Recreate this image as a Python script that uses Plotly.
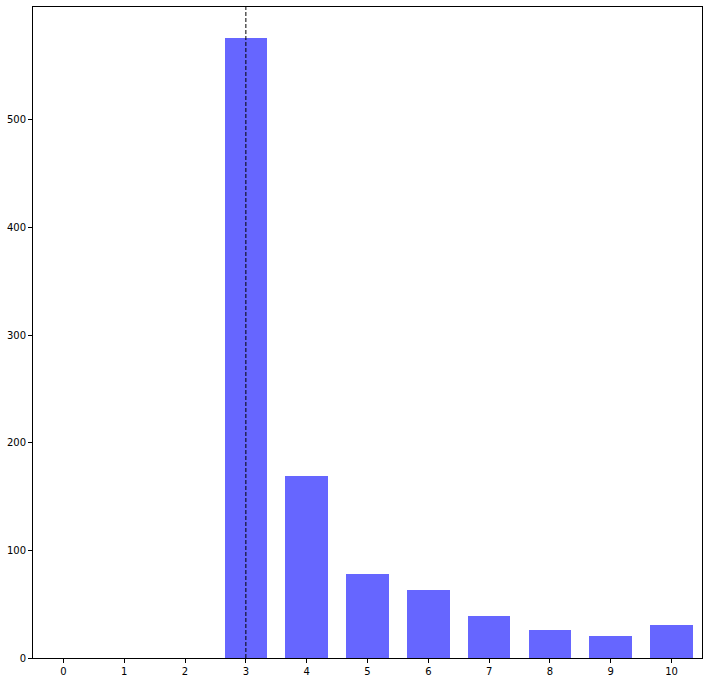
import plotly.graph_objects as go

categories = [0, 1, 2, 3, 4, 5, 6, 7, 8, 9, 10]
counts = [0, 0, 0, 576, 169, 78, 63, 39, 26, 20, 31]
marker_x = 3
y_ticks = [0, 100, 200, 300, 400, 500]

fig = go.Figure()
fig.add_trace(go.Bar(x=categories, y=counts, width=0.7,
                     marker=dict(color="#6666FF", line=dict(width=0)),
                     hoverinfo="x+y"))
fig.add_vline(x=marker_x, line=dict(color="black", width=1, dash="4px,2px"))

axis_common = dict(showline=True, linecolor="black", linewidth=1, mirror=True,
                   ticks="outside", ticklen=4, tickwidth=1, tickcolor="black",
                   showgrid=False, zeroline=False,
                   tickfont=dict(family="DejaVu Sans", size=10, color="black"))
fig.update_xaxes(range=[-0.5, 10.5], tickmode="array", tickvals=categories,
                 ticktext=[str(c) for c in categories], **axis_common)
fig.update_yaxes(range=[0, 604.8], tickmode="array", tickvals=y_ticks,
                 ticktext=[str(v) for v in y_ticks], **axis_common)
fig.update_layout(width=709, height=683, margin=dict(l=33, r=6, t=6, b=23),
                  plot_bgcolor="white", paper_bgcolor="white", showlegend=False,
                  bargap=0)
fig.write_html("out.html", config={"displayModeBar": False},
               post_script="document.body.style.margin='0';")
